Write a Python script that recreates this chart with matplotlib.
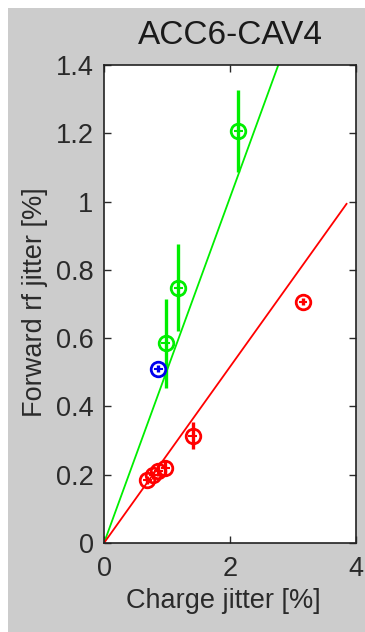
import matplotlib
matplotlib.use("Agg")
import matplotlib.pyplot as plt
import numpy as np
from matplotlib.patches import Rectangle

plt.rcParams['font.family'] = ['Liberation Sans', 'DejaVu Sans']

# Data
green_x = [2.13, 1.18, 0.98]
green_y = [1.208, 0.748, 0.585]
green_yerr = [0.12, 0.128, 0.13]
green_xerr = [0.07, 0.07, 0.07]

blue_x = [0.86]
blue_y = [0.51]
blue_yerr = [0.01]
blue_xerr = [0.07]

red_x = [3.16, 1.41, 0.97, 0.86, 0.78, 0.69]
red_y = [0.707, 0.314, 0.220, 0.212, 0.199, 0.185]
red_yerr = [0.01, 0.04, 0.02, 0.015, 0.012, 0.012]
red_xerr = [0.07, 0.07, 0.07, 0.07, 0.07, 0.07]

fit_x = [0.0, 3.85]
green_slope = 0.506
red_slope = 0.258

xticks = [0, 2, 4]
yticks = [0, 0.2, 0.4, 0.6, 0.8, 1, 1.2, 1.4]
ytick_labels = ['0', '0.2', '0.4', '0.6', '0.8', '1', '1.2', '1.4']

W, H = 365, 632
fig = plt.figure(figsize=(W / 100, H / 100), dpi=100, facecolor='white')
bg = Rectangle((8 / W, 0), 1 - 8 / W, (H - 8) / H,
               transform=fig.transFigure, facecolor='#cccccc',
               edgecolor='none', zorder=-10)
fig.add_artist(bg)

ax = fig.add_axes([104 / W, 1 - 543 / H, 252 / W, 478 / H])
ax.set_zorder(1)
ax.set_facecolor('white')

gc, bc, rc = '#00ee00', '#0000ee', '#ff0000'
ax.plot(fit_x, [green_slope * v for v in fit_x], color=gc, lw=1.3, zorder=2)
ax.plot(fit_x, [red_slope * v for v in fit_x], color=rc, lw=1.3, zorder=2)

for xs, ys, xe, ye, c in [(green_x, green_y, green_xerr, green_yerr, gc),
                          (blue_x, blue_y, blue_xerr, blue_yerr, bc),
                          (red_x, red_y, red_xerr, red_yerr, rc)]:
    ax.errorbar(xs, ys, yerr=ye, fmt='none', ecolor=c, elinewidth=2.4, capsize=0, zorder=3)
    ax.errorbar(xs, ys, xerr=xe, fmt='none', ecolor=c, elinewidth=1.5, capsize=0, zorder=3)
    ax.plot(xs, ys, 'o', mfc='none', mec=c, ms=10.5, mew=2.0, zorder=4, clip_on=False)

txt = '#2a2a2a'
ax.set_xlim(0, 4)
ax.set_ylim(0, 1.4)
ax.set_xticks(xticks)
ax.set_xticklabels([str(t) for t in xticks])
ax.set_yticks(yticks)
ax.set_yticklabels(ytick_labels)
ax.tick_params(direction='in', length=5, width=1, top=True, right=True,
               labelsize=19.5, colors=txt)
ax.tick_params(axis='x', pad=9)
ax.tick_params(axis='y', pad=7.5)
for s in ax.spines.values():
    s.set_linewidth(1.2)
    s.set_color('#222222')

ax.set_title('ACC6-CAV4', fontsize=24, color='#1a1a1a', pad=15)
ax.set_xlabel('Charge jitter [%]', fontsize=19.5, color=txt)
ax.set_ylabel('Forward rf jitter [%]', fontsize=19.5, color=txt)
ax.xaxis.set_label_coords((223.5 - 104) / 252, (543 - 588) / 478)
ax.yaxis.set_label_coords((48 - 104) / 252, 0.5 + (543 - 302 - 239) / 478)

fig.savefig('out.png', dpi=100, facecolor=fig.get_facecolor())
